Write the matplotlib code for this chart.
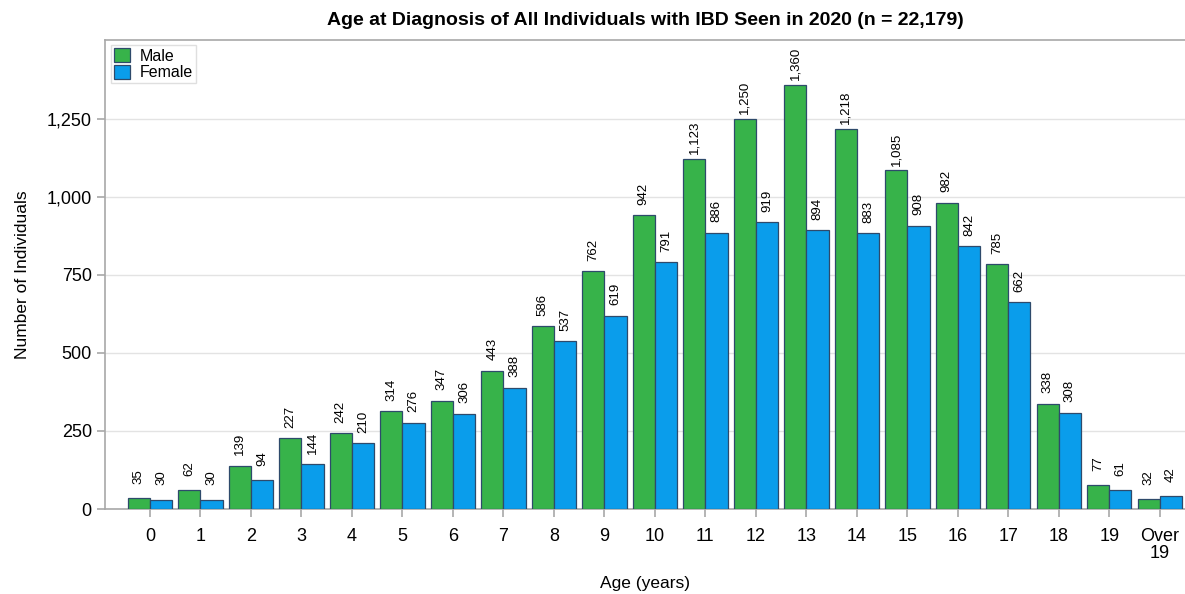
import matplotlib
matplotlib.use("Agg")
import matplotlib.pyplot as plt
import numpy as np

categories = ["0", "1", "2", "3", "4", "5", "6", "7", "8", "9", "10", "11", "12",
              "13", "14", "15", "16", "17", "18", "19", "Over\n19"]
male = [35, 62, 139, 227, 242, 314, 347, 443, 586, 762, 942, 1123, 1250, 1360,
        1218, 1085, 982, 785, 338, 77, 32]
female = [30, 30, 94, 144, 210, 276, 306, 388, 537, 619, 791, 886, 919, 894,
          883, 908, 842, 662, 308, 61, 42]
yticks = [0, 250, 500, 750, 1000, 1250]

plt.rcParams['font.family'] = ['Liberation Sans', 'DejaVu Sans']

fig = plt.figure(figsize=(11.85, 5.94), dpi=100)
ax_w = 1 - 105/1185
ax_h = (509-40)/594
ax = fig.add_axes([105/1185, 1-509/594, ax_w, ax_h])

x = np.arange(len(categories))
w = 0.44
green = '#37B34A'
blue = '#0A9DEB'
edge = '#2E4A6B'
b1 = ax.bar(x - w/2, male, w, color=green, edgecolor=edge, linewidth=0.9, label='Male', zorder=3)
b2 = ax.bar(x + w/2, female, w, color=blue, edgecolor=edge, linewidth=0.9, label='Female', zorder=3)

for bars, vals in ((b1, male), (b2, female)):
    for r, v in zip(bars, vals):
        ax.annotate(f"{v:,}", (r.get_x() + r.get_width()/2, v), xytext=(0, 15.5),
                    textcoords='offset points', rotation=90, ha='center', va='center',
                    fontsize=9.5)

ax.set_xlim(-0.89, 20.5)
ax.set_ylim(0, 1503)
ax.set_yticks(yticks)
ax.set_yticklabels([f"{t:,}" for t in yticks], fontsize=13)
ax.set_xticks(x)
ax.set_xticklabels(categories, fontsize=13, linespacing=1.0)
ax.grid(axis='y', color='#E3E3E3', linewidth=1, zorder=0)
for s in ('top', 'left', 'bottom'):
    ax.spines[s].set_color('#A8A8A8')
    ax.spines[s].set_linewidth(1.2)
ax.spines['right'].set_visible(False)
ax.tick_params(axis='both', colors='#A8A8A8', labelcolor='black', length=6, width=1.2)
ax.tick_params(axis='x', pad=8)

ax.set_ylabel('Number of Individuals', fontsize=12.5, labelpad=12)
ax.set_xlabel('Age (years)', fontsize=12.5, labelpad=10)
ax.set_title('Age at Diagnosis of All Individuals with IBD Seen in 2020 (n = 22,179)',
             fontsize=14, fontweight='bold', pad=11)

leg = ax.legend(loc='upper left', fontsize=11.5, frameon=True, fancybox=False,
                borderpad=0.2, handlelength=1.0, handleheight=1.0, handletextpad=0.6,
                labelspacing=0.05,
                bbox_to_anchor=(6/1080, 1 - 5/469), borderaxespad=0)
leg.get_frame().set_edgecolor('#D8D8D8')
leg.get_frame().set_linewidth(1)

fig.savefig('out.png', dpi=100)
